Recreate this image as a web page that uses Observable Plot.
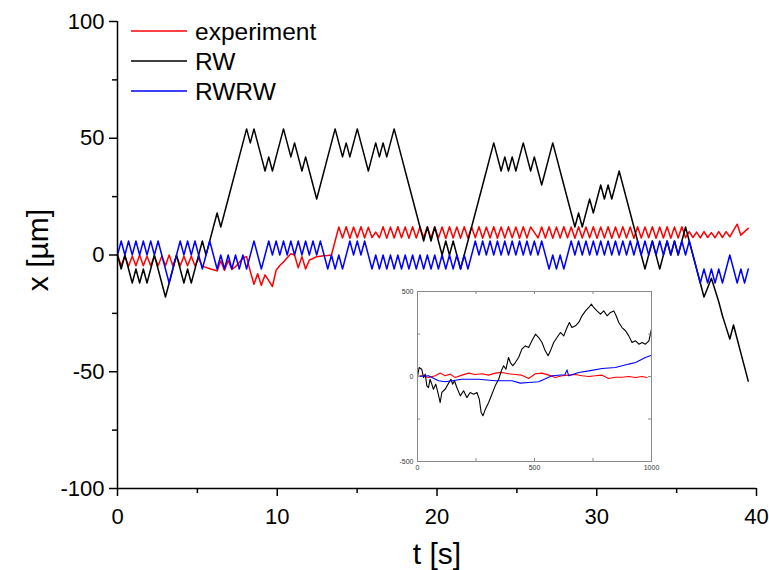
<!DOCTYPE html>
<html><head><meta charset="utf-8">
<script src="https://cdn.jsdelivr.net/npm/d3@7"></script>
<script src="https://cdn.jsdelivr.net/npm/@observablehq/plot@0.6"></script>
<style>
body{margin:0;background:#fff;}
#chart{position:relative;width:769px;height:570px;}
#chart svg.inset{position:absolute;max-width:none;}
</style></head><body><div id="chart"></div>
<script>
// time step between samples (s)
const dt = 0.2309;
const seriesNames = ["experiment", "RW", "RWRW"];
const seriesColors = ["#ff0000", "#000000", "#0000ff"];
const xTicks = [0, 10, 20, 30, 40];
const xMinor = [5, 15, 25, 35];
const yTicks = [-100, -50, 0, 50, 100];
const yMinor = [-75, -25, 25, 75];

// x [µm] values
const experiment = [
0,-4.6,-0.5,-4.8,-0.5,-4.6,0,-4.6,-0.5,-4.6,
-0.5,-4.6,-0.5,-4.6,0,-4.6,-0.5,-4.6,-0.5,-4.6,
-0.5,-4.6,-1.4,-4.8,-5.3,-5.9,-6.3,-6.8,-2.5,-6.6,
-2.3,-6.2,-5,-3.2,-1.2,-0.7,-7,-12.5,-8,-13,
-8.5,-11,-13.5,-6.5,-4.5,-3,-1.2,0.5,0,-5.5,
-0.7,-6,-2.2,-1.5,-0.7,-0.5,-0.3,-0.2,0,6,
12,7.3,12.1,7.2,12,7.4,12.1,7.3,11.9,7.5,
9.8,7.4,12.1,7.2,12,7.3,12.1,7.4,12,7.2,
12.1,7.3,12,7.4,12.1,7.2,12.1,7.3,12,7.1,
12.1,7.3,12,7.2,12.1,7.3,12,7.4,12.1,7.2,
12,7.3,12.1,7.2,12,7.3,12.1,7.4,12,7.2,
12.1,7.3,12,9.7,7.3,12,7.3,12.1,7.2,12,
7.3,12.1,7.4,12,7.2,12.1,7.3,12,7.4,12.1,
7.2,12,7.3,12.1,7.2,12,7.4,12.1,7.3,12,
7.2,12.1,7.3,12,7.4,12.1,7.2,12,7.3,12.1,
7.2,12,7.3,12.1,7.4,10,7.5,9.8,7.3,10,
7.5,9.6,7.4,10,7.5,10,7.8,10.5,13.2,8.5,
10,11.4];
const rw = [
0,-6,0,-6,-12,-6,-12,-6,-12,-6,
0,-6,-12,-18,-12,-6,0,-6,-12,-6,
-12,-6,0,6,0,6,12,18,12,18,
24,30,36,42,48,54,48,54,48,42,
36,42,36,42,48,54,48,42,48,42,
36,42,36,30,24,30,36,42,48,54,
48,42,48,42,48,54,48,42,36,42,
48,42,48,42,48,54,48,42,36,30,
24,18,12,6,12,6,12,6,0,6,
0,6,0,-6,0,6,12,18,24,30,
36,42,48,42,36,42,36,42,36,42,
48,42,36,42,36,30,36,42,48,42,
36,30,24,18,12,18,12,18,24,18,
24,30,24,30,24,30,36,30,24,18,
12,6,0,-6,0,6,0,-6,0,6,
0,6,0,6,12,6,0,-6,-12,-18,
-14,-10,-15,-20,-26,-31,-36,-30,-36,-42,
-48,-54];
const rwrw = [
0,6,0,6,0,6,0,6,0,6,
0,6,0,-6,-12,-6,0,6,0,6,
0,6,0,-6,0,6,0,-6,0,-6,
0,-6,0,-6,0,-6,0,6,0,-6,
0,6,0,6,0,6,0,6,0,6,
0,6,0,6,0,6,0,-6,0,-6,
0,-6,0,6,0,6,0,6,0,-6,
0,-6,0,-6,0,-6,0,-6,0,-6,
0,-6,0,-6,0,-6,0,-6,0,-6,
0,-6,0,-6,0,-6,0,6,0,6,
0,6,0,6,0,6,0,6,0,6,
0,6,0,6,0,6,0,-6,0,-6,
0,-6,0,6,0,6,0,6,0,6,
0,6,0,6,0,6,0,6,0,6,
0,6,0,6,0,6,0,6,0,6,
0,6,0,6,0,6,0,-6,-12,-6,
-12,-6,-12,-6,-12,-6,0,-6,-12,-6,
-12,-6];

// inset (long run)
const insetXTicks = [0, 500, 1000];
const insetXMinor = [250, 500, 750];
const insetYTicks = [-500, 0, 500];
const insetYMinor = [-250, 0, 250];
const insetRWx = [0,7,18,26,33,40,47,54,61,68,78,87,97,104,118,133,143,150,158,168,183,197,211,225,240,254,264,272,280,290,304,318,332,347,358,368,378,389,397,407,418,432,446,461,475,489,504,518,532,546,558,568,582,596,611,625,639,649,660,675,689,703,718,732,743,753,767,782,796,810,825,839,849,860,874,889,903,917,932,946,960,974,989,1000];
const insetRWy = [0,53,43,-6,14,-55,-65,-16,-45,-75,-45,-94,-153,-94,-75,-39,-16,-45,-25,-65,-114,-84,-124,-94,-104,-94,-133,-212,-231,-192,-153,-104,-55,-16,33,63,43,112,82,63,82,112,161,180,171,210,249,229,200,151,122,151,200,229,259,239,288,318,288,298,318,357,386,406,426,406,386,367,386,357,377,386,357,318,288,269,239,200,210,190,200,190,210,278];
const insetExpX = [0,18,47,76,97,118,140,161,190,218,247,275,304,332,361,389,418,446,475,504,532,561,589,618,646,675,703,732,760,789,817,846,874,903,931,960,981];
const insetExpY = [0,4,-6,4,20,4,14,-6,8,20,12,16,8,20,24,16,12,8,-12,16,20,8,-6,4,8,12,4,0,4,8,-12,-4,-4,0,-6,0,-6];
const insetRWRWx = [0,47,90,118,190,261,332,404,439,475,518,575,630,639,646,689,732,789,846,903,932,974,1000];
const insetRWRWy = [0,4,-25,-31,-16,-16,-25,-25,-39,-35,-31,4,10,39,4,24,33,47,53,73,82,112,125];

const font = "'Liberation Sans', Arial, Helvetica, sans-serif";

const rows = (vals, name) => vals.map((v, i) => ({t: i * dt, x: v, s: name}));
const mainData = [...rows(experiment, "experiment"), ...rows(rw, "RW"), ...rows(rwrw, "RWRW")];

const main = Plot.plot({
  width: 769, height: 570,
  marginLeft: 117, marginRight: 13, marginTop: 21, marginBottom: 82,
  style: {fontFamily: font, background: "white", color: "black", overflow: "visible"},
  x: {domain: [0, 40]},
  y: {domain: [-100, 100]},
  color: {domain: seriesNames, range: seriesColors},
  marks: [
    Plot.line(mainData, {x: "t", y: "x", z: "s", stroke: "s", strokeWidth: 1.5}),
    Plot.ruleX([0], {stroke: "black", strokeWidth: 1.5}),
    Plot.ruleY([-100], {stroke: "black", strokeWidth: 1.5}),
    Plot.axisX({ticks: xTicks, tickSize: 8, tickPadding: 12, fontSize: 22, label: null, strokeWidth: 1.5}),
    Plot.axisX({ticks: xMinor, tickSize: 5, tickFormat: () => "", label: null, strokeWidth: 1.5}),
    Plot.axisY({ticks: yTicks, tickSize: 8, tickPadding: 5, fontSize: 22, label: null, strokeWidth: 1.5, tickFormat: d => String(d)}),
    Plot.axisY({ticks: yMinor, tickSize: 5, tickFormat: () => "", label: null, strokeWidth: 1.5}),
    Plot.text(["t [s]"], {frameAnchor: "bottom", dy: 66, lineAnchor: "middle", textAnchor: "middle", fontSize: 30}),
    Plot.text(["x [\u00b5m]"], {frameAnchor: "left", dx: -79, dy: -5, rotate: -90, textAnchor: "middle", lineAnchor: "middle", fontSize: 30})
  ]
});

const insetData = [
  ...insetExpX.map((x, i) => ({x, y: insetExpY[i], s: "experiment"})),
  ...insetRWx.map((x, i) => ({x, y: insetRWy[i], s: "RW"})),
  ...insetRWRWx.map((x, i) => ({x, y: insetRWRWy[i], s: "RWRW"}))
];
const iw = 234, ih = 170;
const inset = Plot.plot({
  width: 30 + iw + 8, height: 8 + ih + 16,
  marginLeft: 30, marginRight: 8, marginTop: 8, marginBottom: 16,
  style: {fontFamily: font, background: "transparent", color: "#333", overflow: "visible"},
  x: {domain: [0, 1000]},
  y: {domain: [-500, 500]},
  color: {domain: seriesNames, range: seriesColors},
  marks: [
    Plot.line(insetData, {x: "x", y: "y", z: "s", stroke: "s", strokeWidth: 1.1}),
    Plot.frame({stroke: "#8a8a8a", strokeWidth: 1}),
    Plot.ruleX(insetXMinor, {stroke: "#8a8a8a", insetTop: ih - 3}),
    Plot.ruleX(insetXMinor, {stroke: "#8a8a8a", insetBottom: ih - 3}),
    Plot.ruleY(insetYMinor, {stroke: "#8a8a8a", insetRight: iw - 3}),
    Plot.ruleY(insetYMinor, {stroke: "#8a8a8a", insetLeft: iw - 3}),
    Plot.axisX({ticks: insetXTicks, tickSize: 0, tickPadding: 4, fontSize: 7, label: null, fill: "#333", tickFormat: d => String(d)}),
    Plot.axisY({ticks: insetYTicks, tickSize: 0, tickPadding: 4, fontSize: 7, label: null, fill: "#333", tickFormat: d => String(d)})
  ]
});
inset.classList.add("inset");
inset.style.left = (417 - 30) + "px";
inset.style.top = (290.5 - 8) + "px";

// legend inside the plot area
const svg = d3.select(main);
const lg = svg.append("g").attr("font-family", font).attr("font-size", 24.5).attr("text-anchor", "start");
seriesNames.forEach((n, k) => {
  const y = 31 + k * 30;
  lg.append("line").attr("x1", 131).attr("x2", 187).attr("y1", y).attr("y2", y)
    .attr("stroke", seriesColors[k]).attr("stroke-width", 1.5);
  lg.append("text").attr("x", 195).attr("y", y).attr("dy", "0.35em").attr("fill", "black").text(n);
});

const chart = document.getElementById("chart");
chart.appendChild(main);
chart.appendChild(inset);
</script>
</body></html>
